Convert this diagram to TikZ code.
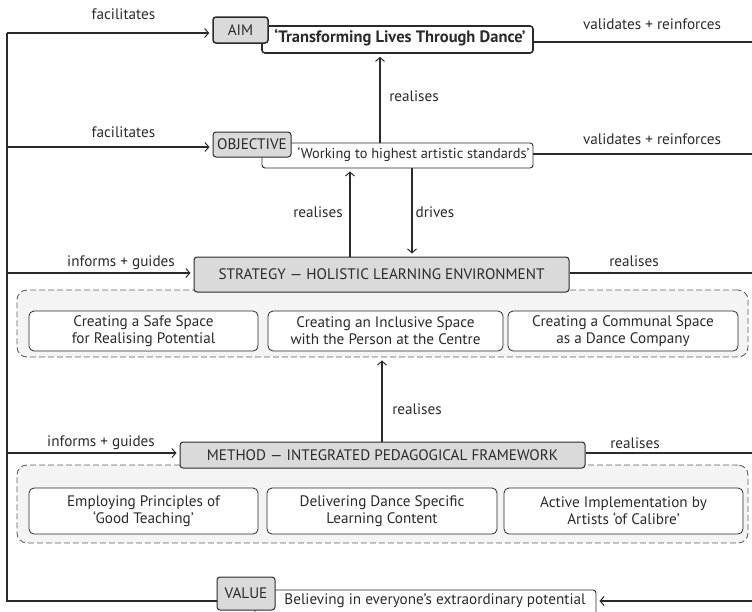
\documentclass[tikz,border=0pt]{standalone}
\usepackage{fontspec}
\setmainfont{PT Sans}
\usetikzlibrary{arrows.meta}
\definecolor{ink}{HTML}{2A2A2A}
\definecolor{tagfill}{HTML}{DADADA}
\definecolor{groupfill}{HTML}{F4F4F4}
\tikzset{
  basefont/.style={font=\fontsize{15.2}{17}\selectfont, text=ink},
  lbl/.style={basefont, inner sep=0pt},
  tag/.style={basefont, draw=ink, fill=tagfill, rounded corners=3pt, line width=1pt, inner sep=0pt},
  stmt/.style={draw=ink, fill=white, rounded corners=3pt, line width=0.9pt, inner sep=0pt},
  item/.style={basefont, draw=ink, fill=white, rounded corners=5pt, line width=0.8pt, align=center, inner sep=0pt},
  group/.style={draw=ink!75, dash pattern=on 6pt off 3pt, fill=groupfill, rounded corners=10pt, line width=0.9pt, inner sep=0pt},
  link/.style={draw=ink, line width=1.1pt},
  arr/.style={link, -{Straight Barb[length=4pt,width=9pt,line width=1pt]}, shorten >=3pt},
}
\begin{document}
\begin{tikzpicture}[x=1pt,y=-1pt]
\clip (0,0) rectangle (752,611);

% ---- AIM ----
\node[stmt, line width=1.6pt, minimum width=271, minimum height=27] (aimS) at (397.5,39.5) {};
\node[lbl, font=\fontsize{16.5}{18}\selectfont\bfseries] (aimT) at (400,38) {`Transforming Lives Through Dance'};
\node[tag, line width=1.5pt, minimum width=55, minimum height=26] (aim) at (240.5,30) {AIM};

% ---- OBJECTIVE ----
\node[stmt, minimum width=271, minimum height=25] (objS) at (397.5,155.5) {};
\node[lbl, font=\fontsize{14.4}{16}\selectfont] (objT) at (413.5,154.5) {`Working to highest artistic standards'};
\node[tag, minimum width=78, minimum height=25] (obj) at (252,144.5) {OBJECTIVE};

% ---- STRATEGY ----
\node[group, minimum width=731, minimum height=67] (grpA) at (382.5,323.5) {};
\node[tag, minimum width=375, minimum height=35] (strat) at (381.5,274.5) {STRATEGY --- HOLISTIC LEARNING ENVIRONMENT};
\node[item, minimum width=229, minimum height=40] (sA) at (143.5,331) {Creating a Safe Space\\for Realising Potential};
\node[item, minimum width=235, minimum height=40] (sB) at (385.5,331) {Creating an Inclusive Space\\with the Person at the Centre};
\node[item, minimum width=230, minimum height=40] (sC) at (623,331) {Creating a Communal Space\\as a Dance Company};

% ---- METHOD ----
\node[group, minimum width=731, minimum height=78] (grpB) at (382.5,504) {};
\node[tag, minimum width=405, minimum height=26] (meth) at (382.5,455) {METHOD --- INTEGRATED PEDAGOGICAL FRAMEWORK};
\node[item, minimum width=229, minimum height=46] (mA) at (143.5,511) {Employing Principles of\\`Good Teaching'};
\node[item, minimum width=230, minimum height=46] (mB) at (382,511) {Delivering Dance Specific\\Learning Content};
\node[item, minimum width=239, minimum height=46] (mC) at (623.5,511) {Active Implementation by\\Artists `of Calibre'};

% ---- VALUE ----
\node[stmt, minimum width=341, minimum height=40] (valS) at (425.5,610) {};
\node[lbl] (valT) at (435,601) {Believing in everyone's extraordinary potential};
\node[tag, minimum width=58, minimum height=33] (val) at (246,593.5) {VALUE};

% ---- left trunk ----
\coordinate (lAim) at (7,33);
\coordinate (lObj) at (7,147);
\coordinate (lStr) at (7,273);
\coordinate (lMet) at (7,453);
\coordinate (lVal) at (7,601);
\draw[link] (lAim) -- (lVal) -- (lVal -| val.west);
\draw[arr] (lAim) -- (lAim -| aim.west);
\draw[arr] (lObj) -- (lObj -| obj.west);
\draw[arr] (lStr) -- (lStr -| strat.west);
\draw[arr] (lMet) -- (lMet -| meth.west);

% ---- right side ----
\coordinate (rAim) at (752,42);
\coordinate (rObj) at (752,154);
\coordinate (rStr) at (752,273);
\coordinate (rMet) at (752,453);
\coordinate (rVal) at (752,601);
\draw[link] (rAim -| aimS.east) -- (rAim);
\draw[link] (rObj -| objS.east) -- (rObj);
\draw[link] (rStr -| strat.east) -- (rStr);
\draw[link] (rMet -| meth.east) -- (rMet);
\draw[arr] (rVal) -- (rVal -| valS.east);

% ---- vertical links ----
\coordinate (vA) at (380,0);
\coordinate (vB) at (350,0);
\coordinate (vC) at (412,0);
\coordinate (vD) at (382,0);
\draw[arr] (vA |- objS.north) -- (vA |- aimS.south);
\draw[arr] (vB |- strat.north) -- (vB |- objS.south);
\draw[arr] (vC |- objS.south) -- (vC |- strat.north);
\draw[arr] (vD |- meth.north) -- (vD |- grpA.south);

% ---- labels ----
\node[lbl] (tFacA) at (123.5,14) {facilitates};
\node[lbl] (tFacB) at (123.5,132) {facilitates};
\node[lbl] (tValA) at (652,24) {validates + reinforces};
\node[lbl] (tValB) at (652,139) {validates + reinforces};
\node[lbl] (tReA) at (414,96) {realises};
\node[lbl] (tReB) at (318,212) {realises};
\node[lbl] (tDrv) at (435,212) {drives};
\node[lbl] (tInfA) at (121,263) {informs + guides};
\node[lbl] (tReC) at (634,261) {realises};
\node[lbl] (tReD) at (417,409) {realises};
\node[lbl] (tInfB) at (101,443) {informs + guides};
\node[lbl] (tReE) at (635,443) {realises};
\end{tikzpicture}
\end{document}
